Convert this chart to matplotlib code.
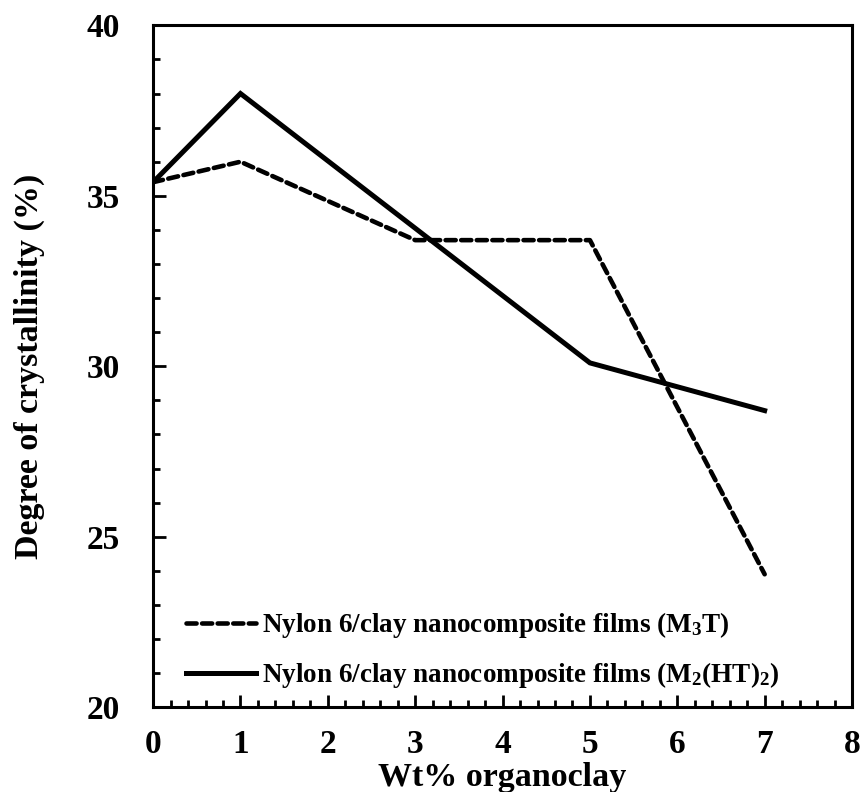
import matplotlib
matplotlib.use("Agg")
import matplotlib.pyplot as plt
from matplotlib.ticker import MultipleLocator

plt.rcParams['font.family'] = ['Liberation Serif', 'DejaVu Serif']
plt.rcParams['font.weight'] = 'bold'
plt.rcParams['mathtext.fontset'] = 'custom'
plt.rcParams['mathtext.rm'] = 'Liberation Serif:bold'
plt.rcParams['mathtext.it'] = 'Liberation Serif:bold'
plt.rcParams['mathtext.bf'] = 'Liberation Serif:bold'

# organoclay loading (wt%) and crystallinity (%)
wt_m3t = [0, 1, 3, 5, 7]
cryst_m3t = [35.4, 36.0, 33.7, 33.7, 23.9]

wt_m2ht2 = [0, 1, 3, 5, 7]
cryst_m2ht2 = [35.4, 38.0, 34.05, 30.1, 28.7]

label_m3t = 'Nylon 6/clay nanocomposite films (M$_3$T)'
label_m2ht2 = 'Nylon 6/clay nanocomposite films (M$_2$(HT)$_2$)'

fig = plt.figure(figsize=(8.65, 7.92), dpi=100)
ax = fig.add_axes([0.177, 0.107, 0.808, 0.861])

ax.plot(wt_m3t, cryst_m3t, color='black', lw=3.3, linestyle=(0, (2.2, 1.2)),
        dash_capstyle='round', label=label_m3t)
ax.plot(wt_m2ht2, cryst_m2ht2, color='black', lw=3.6, solid_joinstyle='miter',
        label=label_m2ht2)

ax.set_xlim(0, 8)
ax.set_ylim(20, 40)
ax.xaxis.set_major_locator(MultipleLocator(1))
ax.xaxis.set_minor_locator(MultipleLocator(0.2))
ax.yaxis.set_major_locator(MultipleLocator(5))
ax.yaxis.set_minor_locator(MultipleLocator(1))

ax.tick_params(which='both', direction='in', top=False, right=False, width=2)
ax.tick_params(axis='x', which='major', length=9, pad=16, labelsize=24)
ax.tick_params(axis='x', which='minor', length=5)
ax.tick_params(axis='y', which='major', length=9, pad=24, labelsize=24)
ax.tick_params(axis='y', which='minor', length=5)
for sp in ax.spines.values():
    sp.set_linewidth(2.2)

ax.set_xlabel('Wt% organoclay', fontsize=24.5, fontweight='bold', labelpad=1)
ax.set_ylabel('Degree of crystallinity (%)', fontsize=24.5, fontweight='bold', labelpad=30)

ax.legend(loc='lower left', bbox_to_anchor=(0.012, -0.011), frameon=False,
          handlelength=2.6, handletextpad=0.2, labelspacing=0.75,
          prop={'weight': 'bold', 'size': 19.5})

fig.savefig('out.png', dpi=100)
